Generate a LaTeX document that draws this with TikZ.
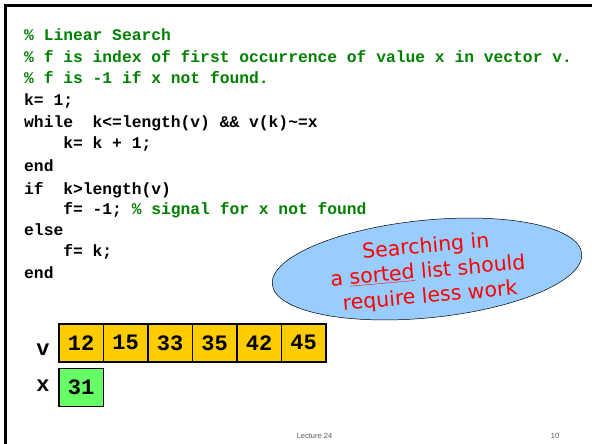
\documentclass[tikz,border=0pt]{standalone}
\usepackage{fontspec}
\setmainfont{Liberation Serif}
\newfontfamily\codefont{Liberation Mono}
\newfontfamily\notefont{DejaVu Sans}
\newfontfamily\footfont{Liberation Sans}
\usetikzlibrary{shapes.geometric}

\definecolor{codegreen}{RGB}{0,128,0}
\definecolor{cellyellow}{RGB}{255,204,0}
\definecolor{cellgreen}{RGB}{102,255,102}
\definecolor{bubblefill}{RGB}{153,204,255}
\definecolor{footgray}{RGB}{90,90,90}

\tikzset{
  codeline/.style={anchor=base west, inner sep=0pt,
    font=\codefont\bfseries\fontsize{16.3}{18}\selectfont},
  cmtline/.style={codeline, text=codegreen},
  cell/.style={draw=black, line width=1.6pt, anchor=north west,
    minimum width=44.5pt, minimum height=38pt, inner sep=0pt,
    font=\codefont\bfseries\fontsize{22}{24}\selectfont},
  varlabel/.style={anchor=base, inner sep=0pt,
    font=\codefont\bfseries\fontsize{22}{24}\selectfont},
  footer/.style={anchor=base, inner sep=0pt, text=footgray,
    font=\footfont\fontsize{7.5}{9}\selectfont},
}

\begin{document}
\begin{tikzpicture}[x=1pt,y=-1pt]
  \useasboundingbox (0,0) rectangle (592,444);
  \fill[white] (0,0) rectangle (592,444);

  % slide frame (top and left edges)
  \draw[line width=2.5pt] (5.3,444) -- (5.3,5.3) -- (592,5.3);

  % code listing
  \node[cmtline] (c1)  at (24,41)    {\%\ Linear Search};
  \node[cmtline] (c2)  at (24,62.5)  {\%\ f is index of first occurrence of value x in vector v.};
  \node[cmtline] (c3)  at (24,84)    {\%\ f is -1 if x not found.};
  \node[codeline] (c4) at (24,105.5) {k= 1;};
  \node[codeline] (c5) at (24,127)   {while\ \ k<=length(v) \&\& v(k)\textasciitilde=x};
  \node[codeline] (c6) at (63.1,148.5) {k= k + 1;};
  \node[codeline] (c7) at (24,171)   {end};
  \node[codeline] (c8) at (24,194)   {if\ \ k>length(v)};
  \node[codeline] (c9) at (63.1,214.5) {f= -1; \textcolor{codegreen}{\%\ signal for x not found}};
  \node[codeline] (c10) at (24,235)  {else};
  \node[codeline] (c11) at (63.1,256) {f= k;};
  \node[codeline] (c12) at (24,278)  {end};

  % speech bubble
  \node[ellipse, draw=black, line width=0.5pt, fill=bubblefill,
        minimum width=311pt, minimum height=97.6pt, inner sep=0pt,
        rotate=5.7] (bubble) at (427,269) {};
  \node[rotate=5, align=center, text=red, inner sep=0pt,
        font=\notefont\fontsize{20.5}{25}\selectfont] (note) at (428,272)
        {Searching in\\a \underline{sorted} list should\\require less work};

  % vector v
  \node[varlabel] (vlab) at (43,355) {v};
  \node[cell, fill=cellyellow] (v1) at (58,323)    {12};
  \node[cell, fill=cellyellow] (v2) at (102.5,323) {15};
  \node[cell, fill=cellyellow] (v3) at (147,323)   {33};
  \node[cell, fill=cellyellow] (v4) at (191.5,323) {35};
  \node[cell, fill=cellyellow] (v5) at (236,323)   {42};
  \node[cell, fill=cellyellow] (v6) at (280.5,323) {45};

  % value x
  \node[varlabel] (xlab) at (43,391) {x};
  \node[cell, fill=cellgreen] (x1) at (58,367.5) {31};

  % footer
  \node[footer] (lect) at (314.5,438) {Lecture 24};
  \node[footer] (page) at (555,438) {10};
\end{tikzpicture}
\end{document}
